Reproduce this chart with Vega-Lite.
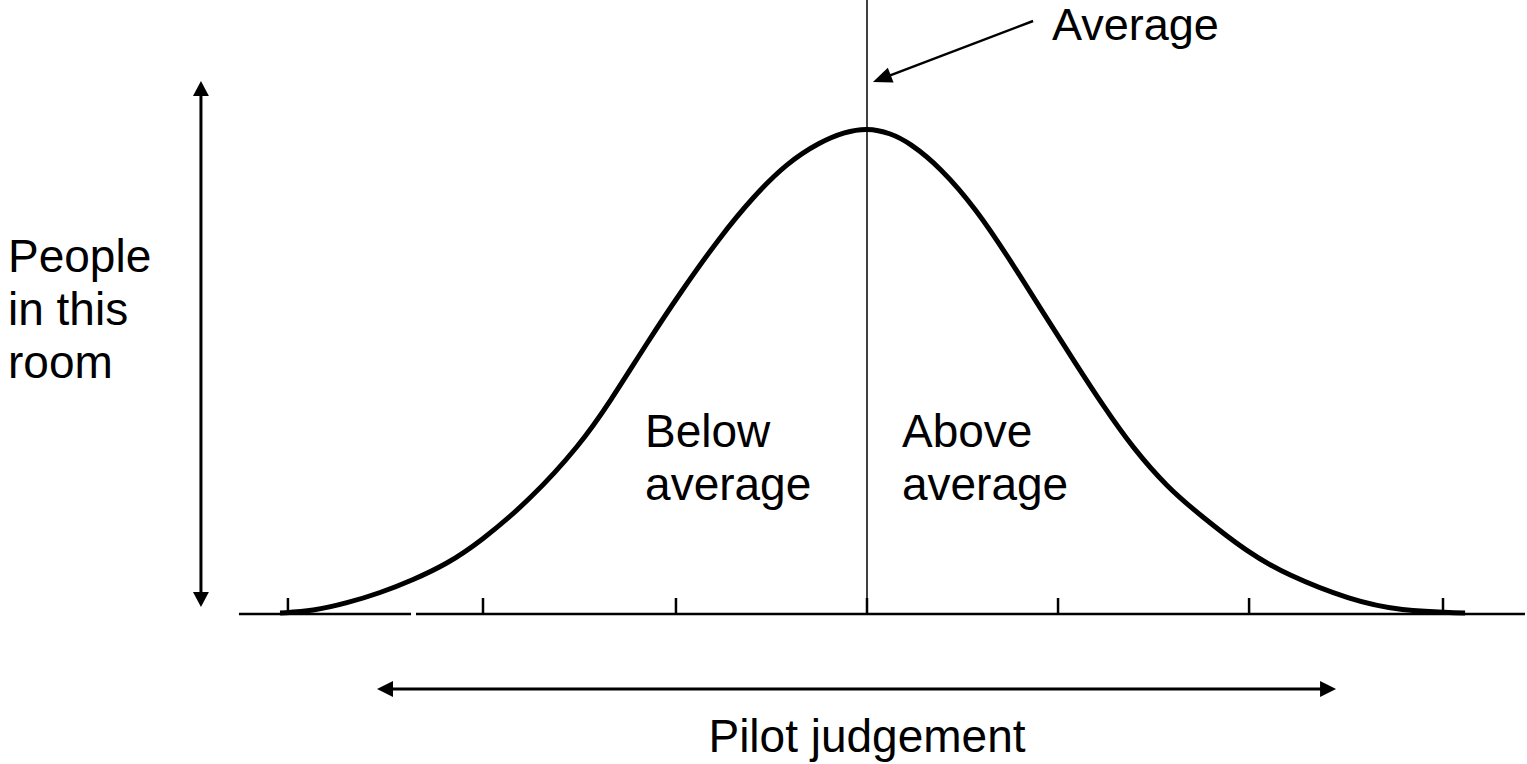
{
  "$schema": "https://vega.github.io/schema/vega-lite/v6.json",
  "width": 1527,
  "height": 764,
  "autosize": {"type": "none"},
  "padding": 0,
  "background": "white",
  "config": {"view": {"stroke": null}},
  "datasets": {
    "curve": [
      {"x": -3.057, "y": 0.21}, {"x": -2.885, "y": 0.62}, {"x": -2.708, "y": 2.26}, {"x": -2.536, "y": 4.32},
      {"x": -2.365, "y": 7.0}, {"x": -2.188, "y": 10.29}, {"x": -2.016, "y": 14.81}, {"x": -1.755, "y": 23.46},
      {"x": -1.495, "y": 34.77}, {"x": -1.339, "y": 43.62}, {"x": -1.146, "y": 55.76}, {"x": -0.974, "y": 66.05},
      {"x": -0.766, "y": 77.57}, {"x": -0.594, "y": 85.8}, {"x": -0.417, "y": 92.8}, {"x": -0.245, "y": 97.12},
      {"x": -0.115, "y": 99.2}, {"x": 0.0, "y": 100.0}, {"x": 0.12, "y": 99.0}, {"x": 0.224, "y": 96.91},
      {"x": 0.38, "y": 91.98}, {"x": 0.573, "y": 83.13}, {"x": 0.745, "y": 72.84}, {"x": 0.922, "y": 61.73},
      {"x": 1.078, "y": 52.06}, {"x": 1.234, "y": 42.59}, {"x": 1.385, "y": 34.16}, {"x": 1.563, "y": 26.13},
      {"x": 1.734, "y": 20.37}, {"x": 1.979, "y": 12.76}, {"x": 2.188, "y": 8.02}, {"x": 2.516, "y": 2.88},
      {"x": 2.776, "y": 0.62}, {"x": 3.115, "y": 0.21}
    ],
    "base": [
      {"x": -3.271, "y": 0, "x2": -2.375, "y2": 0},
      {"x": -2.349, "y": 0, "x2": 3.427, "y2": 0}
    ],
    "ticks": [
      {"x": -3.016, "y": 0, "x2": -3.016, "y2": 3.29},
      {"x": -2.0, "y": 0, "x2": -2.0, "y2": 3.29},
      {"x": -0.995, "y": 0, "x2": -0.995, "y2": 3.29},
      {"x": 0.0, "y": 0, "x2": 0.0, "y2": 3.29},
      {"x": 0.995, "y": 0, "x2": 0.995, "y2": 3.29},
      {"x": 1.99, "y": 0, "x2": 1.99, "y2": 3.29},
      {"x": 3.0, "y": 0, "x2": 3.0, "y2": 3.29}
    ],
    "avgline": [{"x": 0.0, "y": 0, "x2": 0.0, "y2": 126.34}],
    "shafts": [
      {"x": -3.469, "y": 2.47, "x2": -3.469, "y2": 108.64},
      {"x": -2.526, "y": -15.43, "x2": 2.417, "y2": -15.43}
    ],
    "avgshaft": [{"x": 0.865, "y": 122.02, "x2": 0.0797, "y2": 110.21}],
    "headUp": [{"x": -3.469, "y": 109.67}],
    "headDown": [{"x": -3.469, "y": 1.44}],
    "headLeft": [{"x": -2.552, "y": -15.43}],
    "headRight": [{"x": 2.443, "y": -15.43}],
    "headAvg": [{"x": 0.031, "y": 109.47}],
    "labels": [
      {"x": -4.474, "y": 70.37, "label": "People\nin this\nroom"},
      {"x": -1.156, "y": 34.36, "label": "Below\naverage"},
      {"x": 0.182, "y": 34.36, "label": "Above\naverage"}
    ],
    "toplabel": [{"x": 0.964, "y": 118.1, "label": "Average"}],
    "xlabel": [{"x": 0.0, "y": -28.4, "label": "Pilot judgement"}]
  },
  "encoding": {
    "x": {"field": "x", "type": "quantitative", "scale": {"domain": [-4.515625, 3.4375], "nice": false, "zero": false}, "axis": null},
    "y": {"field": "y", "type": "quantitative", "scale": {"domain": [-30.864, 126.337], "nice": false, "zero": false}, "axis": null}
  },
  "layer": [
    {"data": {"name": "base"}, "mark": {"type": "rule", "color": "black", "strokeWidth": 2.5}, "encoding": {"x2": {"field": "x2"}, "y2": {"field": "y2"}}},
    {"data": {"name": "ticks"}, "mark": {"type": "rule", "color": "black", "strokeWidth": 2.5}, "encoding": {"x2": {"field": "x2"}, "y2": {"field": "y2"}}},
    {"data": {"name": "avgline"}, "mark": {"type": "rule", "color": "black", "strokeWidth": 1.5}, "encoding": {"x2": {"field": "x2"}, "y2": {"field": "y2"}}},
    {"data": {"name": "curve"}, "mark": {"type": "line", "color": "black", "strokeWidth": 5, "interpolate": "basis"}, "encoding": {}},
    {"data": {"name": "shafts"}, "mark": {"type": "rule", "color": "black", "strokeWidth": 3}, "encoding": {"x2": {"field": "x2"}, "y2": {"field": "y2"}}},
    {"data": {"name": "avgshaft"}, "mark": {"type": "rule", "color": "black", "strokeWidth": 2.5}, "encoding": {"x2": {"field": "x2"}, "y2": {"field": "y2"}}},
    {"data": {"name": "headUp"}, "mark": {"type": "point", "shape": "M0,0L-0.53,1L0.53,1Z", "size": 900, "filled": true, "color": "black", "opacity": 1, "strokeWidth": 0, "angle": 0}},
    {"data": {"name": "headDown"}, "mark": {"type": "point", "shape": "M0,0L-0.53,1L0.53,1Z", "size": 900, "filled": true, "color": "black", "opacity": 1, "strokeWidth": 0, "angle": 180}},
    {"data": {"name": "headLeft"}, "mark": {"type": "point", "shape": "M0,0L-0.5,1L0.5,1Z", "size": 1024, "filled": true, "color": "black", "opacity": 1, "strokeWidth": 0, "angle": 270}},
    {"data": {"name": "headRight"}, "mark": {"type": "point", "shape": "M0,0L-0.5,1L0.5,1Z", "size": 1024, "filled": true, "color": "black", "opacity": 1, "strokeWidth": 0, "angle": 90}},
    {"data": {"name": "headAvg"}, "mark": {"type": "point", "shape": "M0,0L-0.42,1L0.42,1Z", "size": 1444, "filled": true, "color": "black", "opacity": 1, "strokeWidth": 0, "angle": 249}},
    {"data": {"name": "labels"}, "mark": {"type": "text", "align": "left", "baseline": "alphabetic", "font": "Liberation Sans", "fontSize": 46, "lineHeight": 53, "lineBreak": "\n", "color": "black"}, "encoding": {"text": {"field": "label"}}},
    {"data": {"name": "toplabel"}, "mark": {"type": "text", "align": "left", "baseline": "alphabetic", "font": "Liberation Sans", "fontSize": 45, "color": "black"}, "encoding": {"text": {"field": "label"}}},
    {"data": {"name": "xlabel"}, "mark": {"type": "text", "align": "center", "baseline": "alphabetic", "font": "Liberation Sans", "fontSize": 46, "color": "black"}, "encoding": {"text": {"field": "label"}}}
  ]
}
